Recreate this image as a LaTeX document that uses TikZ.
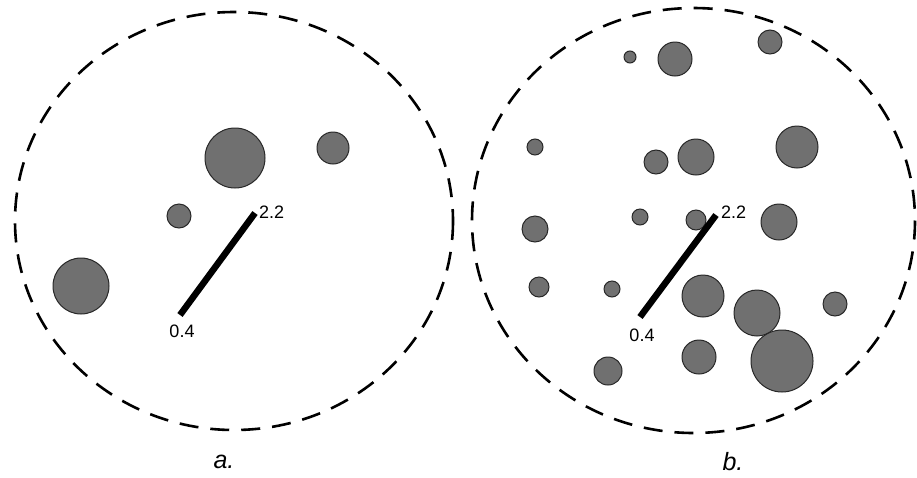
\documentclass[tikz,border=0pt]{standalone}
\usepackage{fontspec}
\setmainfont{Liberation Sans}
\definecolor{blobfill}{RGB}{112,112,112}
\definecolor{blobline}{RGB}{40,40,40}
\begin{document}
\begin{tikzpicture}[x=1pt,y=-1pt,
  blob/.style={circle,draw=blobline,fill=blobfill,line width=1pt,inner sep=0pt,minimum size=#1},
  dashcirc/.style={draw=black,line width=2.6pt,dash pattern=on 19pt off 12pt},
  rod/.style={line width=6.5pt,black},
  numlabel/.style={font=\fontsize{18}{18}\selectfont,inner sep=0pt,text=black},
  caption/.style={font=\fontsize{25}{25}\selectfont\itshape,inner sep=0pt}]
\useasboundingbox (0,0) rectangle (917,477);
% ---- panel a ----
\draw[dashcirc] (234,221) ellipse [x radius=219, y radius=209];
\node[blob=60pt] (a1) at (235,158) {};
\node[blob=32pt] (a2) at (333,148) {};
\node[blob=24pt] (a3) at (179,216) {};
\node[blob=56pt] (a4) at (81,286) {};
\coordinate (alo) at (180,315);
\coordinate (ahi) at (255,213);
\draw[rod] (alo) -- (ahi);
\node[numlabel,anchor=west] (ahilab) at (259,212) {2.2};
\node[numlabel] (alolab) at (182,331) {0.4};
\node[caption] (acap) at (224,462) {a.};
% ---- panel b ----
\draw[dashcirc] (693.5,220.5) ellipse [x radius=221.5, y radius=212.5];
\node[blob=12pt] (b1) at (630,57) {};
\node[blob=34pt] (b2) at (675,59) {};
\node[blob=24pt] (b3) at (770,42) {};
\node[blob=16pt] (b4) at (535,147) {};
\node[blob=24pt] (b5) at (656,162) {};
\node[blob=36pt] (b6) at (696,157) {};
\node[blob=42pt] (b7) at (797,147) {};
\node[blob=16pt] (b8) at (640,217) {};
\node[blob=20pt] (b9) at (696,220) {};
\node[blob=36pt] (b10) at (779,222) {};
\node[blob=26pt] (b11) at (535,229) {};
\node[blob=20pt] (b12) at (539,287) {};
\node[blob=16pt] (b13) at (612,289) {};
\node[blob=42pt] (b14) at (703,296) {};
\node[blob=46pt] (b15) at (757,313) {};
\node[blob=24pt] (b16) at (835,304) {};
\node[blob=34pt] (b17) at (699,357) {};
\node[blob=62pt] (b18) at (782,361) {};
\node[blob=28pt] (b19) at (608,371) {};
\coordinate (blo) at (640,317);
\coordinate (bhi) at (716,215);
\draw[rod] (blo) -- (bhi);
\node[numlabel,anchor=west] (bhilab) at (721,212) {2.2};
\node[numlabel] (blolab) at (642,335) {0.4};
\node[caption] (bcap) at (733,462) {b.};
\end{tikzpicture}
\end{document}
